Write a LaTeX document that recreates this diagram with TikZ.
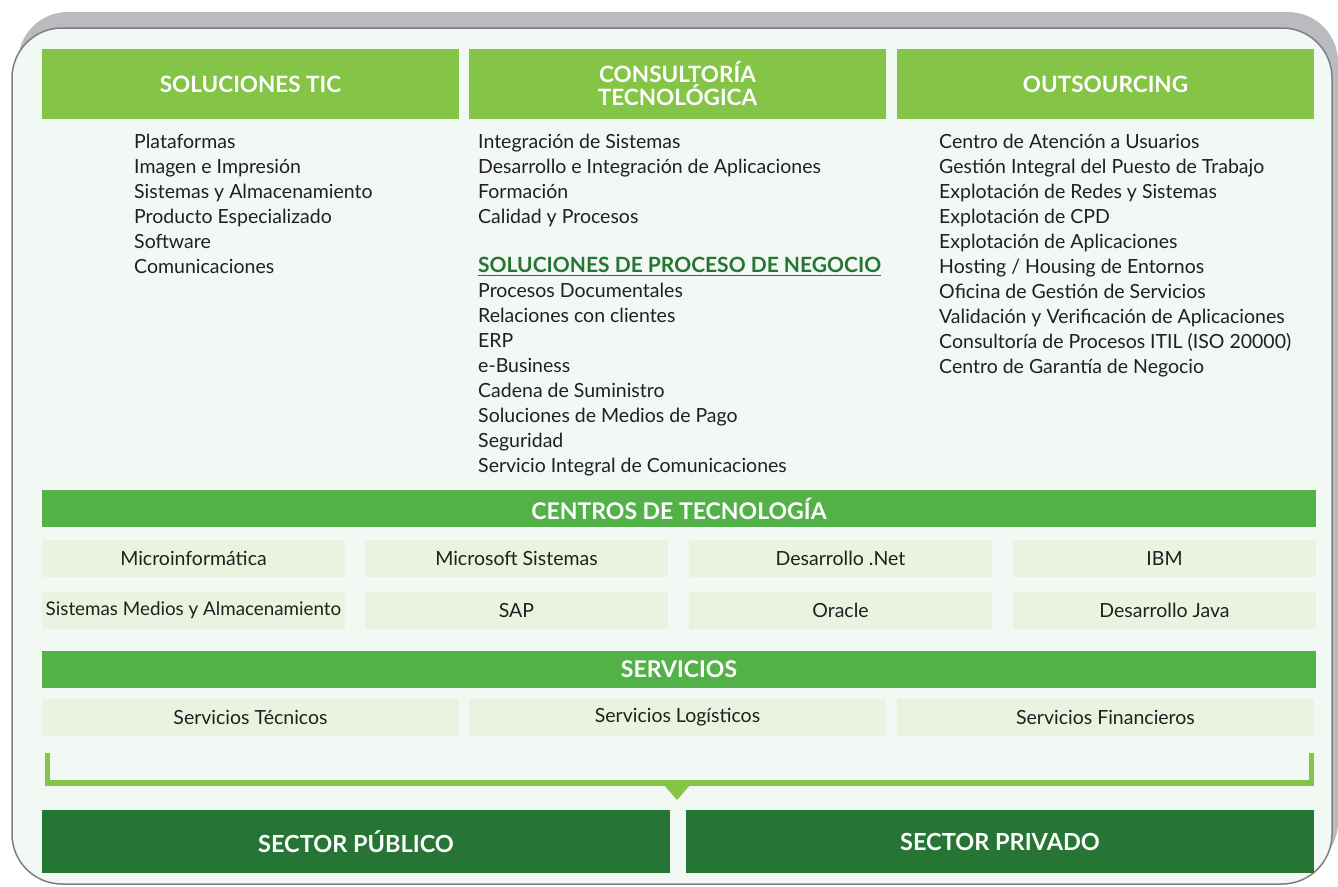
\documentclass[tikz,border=0pt]{standalone}
\usepackage{fontspec}
\setmainfont{Lato}
\usetikzlibrary{positioning}
\definecolor{hdrgreen}{HTML}{84C446}
\definecolor{bargreen}{HTML}{52B248}
\definecolor{darkgreen}{HTML}{267534}
\definecolor{cellgreen}{HTML}{EAF3E0}
\definecolor{panelbg}{HTML}{F2F8F4}
\definecolor{framegray}{HTML}{7F7F83}
\definecolor{shadowgray}{HTML}{BABBBE}
\definecolor{ink}{HTML}{231F20}

\begin{document}
\begin{tikzpicture}[x=1pt,y=-1pt]
\tikzstyle{every node}+=[inner sep=0pt, text=ink, font=\fontsize{19.5}{22}\selectfont]
\tikzstyle{hdrbox}=[fill=hdrgreen, minimum width=417pt, minimum height=70pt, text=white, font=\fontsize{22.5}{23}\selectfont\bfseries, align=center]
\tikzstyle{barbox}=[fill=bargreen, minimum width=1274pt, minimum height=37pt, text=white, font=\fontsize{23}{24}\selectfont\bfseries]
\tikzstyle{cell}=[fill=cellgreen, minimum width=303pt, minimum height=37pt, font=\fontsize{19.5}{22}\selectfont]
\tikzstyle{svcbox}=[fill=cellgreen, minimum width=417pt, minimum height=37pt]
\tikzstyle{sectorbox}=[fill=darkgreen, minimum height=63pt, text=white, font=\fontsize{23.5}{24}\selectfont\bfseries]
\tikzstyle{item}=[anchor=base west]
\useasboundingbox (0,0) rectangle (1338,886);
% frame
\fill [shadowgray, rounded corners=50pt] (18,12) rectangle (1338,872);
\filldraw [fill=panelbg, draw=framegray, line width=1.5pt, rounded corners=50pt] (12,28) rectangle (1332,884);
% headers
\node [hdrbox] (soltic) at (250.5,84) {SOLUCIONES TIC};
\node [hdrbox] (consult) at (677.5,84) {CONSULTORÍA\\TECNOLÓGICA};
\node [hdrbox] (outsrc) at (1105.5,84) {OUTSOURCING};
% lists
\foreach \t [count=\i from 0] in {Plataformas, Imagen e Impresión, Sistemas y Almacenamiento, Producto Especializado, Software, Comunicaciones}
  \node [item] (ta\i) at (134,148+25*\i) {\t};
\foreach \t [count=\i from 0] in {Integración de Sistemas, Desarrollo e Integración de Aplicaciones, Formación, Calidad y Procesos}
  \node [item] (tb\i) at (478,148+25*\i) {\t};
\node [item, text=darkgreen, font=\fontsize{21}{22}\selectfont\bfseries] (spn) at (478,272) {SOLUCIONES DE PROCESO DE NEGOCIO};
\draw [darkgreen, line width=1.3pt] ([yshift=-3.5pt]spn.base west) -- ([yshift=-3.5pt]spn.base east);
\foreach \t [count=\i from 0] in {Procesos Documentales, Relaciones con clientes, ERP, e-Business, Cadena de Suministro, Soluciones de Medios de Pago, Seguridad, Servicio Integral de Comunicaciones}
  \node [item] (tc\i) at (478,297+25*\i) {\t};
\foreach \t [count=\i from 0] in {Centro de Atención a Usuarios, Gestión Integral del Puesto de Trabajo, Explotación de Redes y Sistemas, Explotación de CPD, Explotación de Aplicaciones, Hosting / Housing de Entornos, Oficina de Gestión de Servicios, Validación y Verificación de Aplicaciones, Consultoría de Procesos ITIL (ISO 20000), Centro de Garantía de Negocio}
  \node [item] (td\i) at (939,148+25.1*\i) {\t};
% centros de tecnologia
\node [barbox] (centros) at (679,508.5) {CENTROS DE TECNOLOGÍA};
\node [cell] (micro) at (193.5,558.5) {Microinformática};
\node [cell] (mssys) at (516.5,558.5) {Microsoft Sistemas};
\node [cell] (dnet) at (840.5,558.5) {Desarrollo .Net};
\node [cell] (ibm) at (1164.5,558.5) {IBM};
\node [cell, font=\fontsize{18.8}{22}\selectfont] (smalm) at (193.5,610.5) {Sistemas Medios y Almacenamiento};
\node [cell] (sap) at (516.5,610.5) {SAP};
\node [cell] (oracle) at (840.5,610.5) {Oracle};
\node [cell] (java) at (1164.5,610.5) {Desarrollo Java};
% servicios
\node [barbox] (serv) at (679,669.5) {SERVICIOS};
\node [svcbox] (stec) at (250.5,717.5) {Servicios Técnicos};
\node [svcbox] (slog) at (677.5,717.5) {Servicios Logísticos};
\node [svcbox] (sfin) at (1105.5,717.5) {Servicios Financieros};
% bracket
\coordinate (bl) at (47.5,753);
\coordinate (br) at (1311.5,753);
\coordinate (tip) at (677,800);
\draw [hdrgreen, line width=5.5pt] (bl) |- (tip |- 0,783) -| (br);
\fill [hdrgreen] (664,785) -- (tip) -- (690,785) -- cycle;
% sectores
\node [sectorbox, minimum width=628pt] (pub) at (356,841.5) {SECTOR PÚBLICO};
\node [sectorbox, minimum width=628pt] (priv) at (1000,841.5) {SECTOR PRIVADO};
\end{tikzpicture}
\end{document}
